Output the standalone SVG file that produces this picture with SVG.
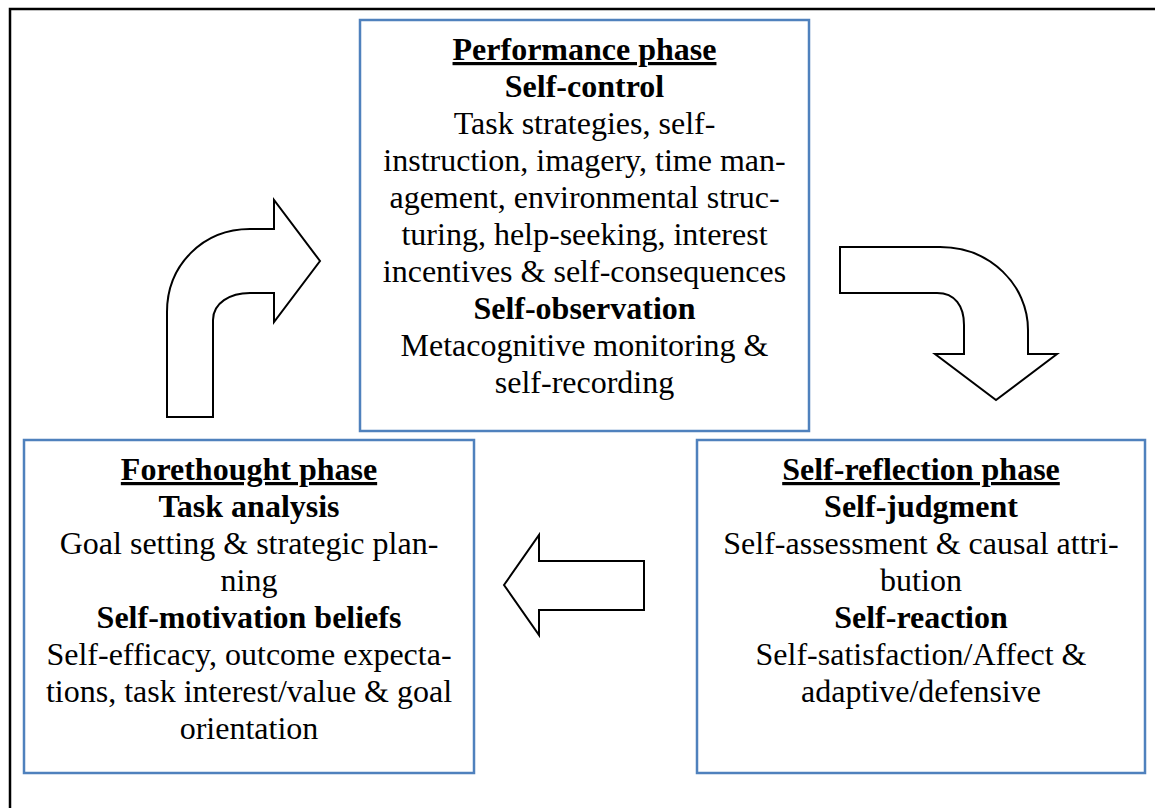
<svg xmlns="http://www.w3.org/2000/svg" width="1155" height="808" viewBox="0 0 1155 808">
<style>
.box{fill:#fff;stroke:#4f81bd;stroke-width:2.5}
.arr{fill:#fff;stroke:#000;stroke-width:2;stroke-linejoin:miter}
text{font-family:"Liberation Serif","Times New Roman",serif;font-size:32px;fill:#000;text-anchor:middle}
.b{font-weight:bold}
.u{font-weight:bold;text-decoration:underline}
</style>
<rect x="10" y="9" width="1170" height="830" fill="#fff" stroke="#000" stroke-width="2.5"/>
<g id="connectors">
<path class="arr" d="M167,417 L167,312 C167,265 203,229 250,229 L274,229 L274,200 L320,261 L274,322 L274,293 L250,293 C230,293 213,303 213,320 L213,417 Z"/>
<path class="arr" d="M840,247 L940,247 C990,247 1028,285 1028,330 L1028,354 L1057,354 L996,400 L935,354 L964,354 L964,325 C964,306 955,293 937,293 L840,293 Z"/>
<path class="arr" d="M504,585 L539,535 L539,561 L644,561 L644,610 L539,610 L539,635 Z"/>
</g>
<g id="performance">
<rect class="box" x="360" y="20" width="449" height="411"/>
<text class="u" x="584.5" y="60">Performance phase</text>
<text class="b" x="584.5" y="97">Self-control</text>
<text x="584.5" y="134">Task strategies, self-</text>
<text x="584.5" y="171">instruction, imagery, time man-</text>
<text x="584.5" y="208">agement, environmental struc-</text>
<text x="584.5" y="245">turing, help-seeking, interest</text>
<text x="584.5" y="282">incentives &amp; self-consequences</text>
<text class="b" x="584.5" y="319">Self-observation</text>
<text x="584.5" y="356">Metacognitive monitoring &amp;</text>
<text x="584.5" y="393">self-recording</text>
</g>
<g id="forethought">
<rect class="box" x="24" y="440" width="450" height="333"/>
<text class="u" x="249" y="480">Forethought phase</text>
<text class="b" x="249" y="517">Task analysis</text>
<text x="249" y="554">Goal setting &amp; strategic plan-</text>
<text x="249" y="591">ning</text>
<text class="b" x="249" y="628">Self-motivation beliefs</text>
<text x="249" y="665">Self-efficacy, outcome expecta-</text>
<text x="249" y="702">tions, task interest/value &amp; goal</text>
<text x="249" y="739">orientation</text>
</g>
<g id="selfreflection">
<rect class="box" x="697" y="440" width="448" height="333"/>
<text class="u" x="921" y="480">Self-reflection phase</text>
<text class="b" x="921" y="517">Self-judgment</text>
<text x="921" y="554">Self-assessment &amp; causal attri-</text>
<text x="921" y="591">bution</text>
<text class="b" x="921" y="628">Self-reaction</text>
<text x="921" y="665">Self-satisfaction/Affect &amp;</text>
<text x="921" y="702">adaptive/defensive</text>
</g>
</svg>
